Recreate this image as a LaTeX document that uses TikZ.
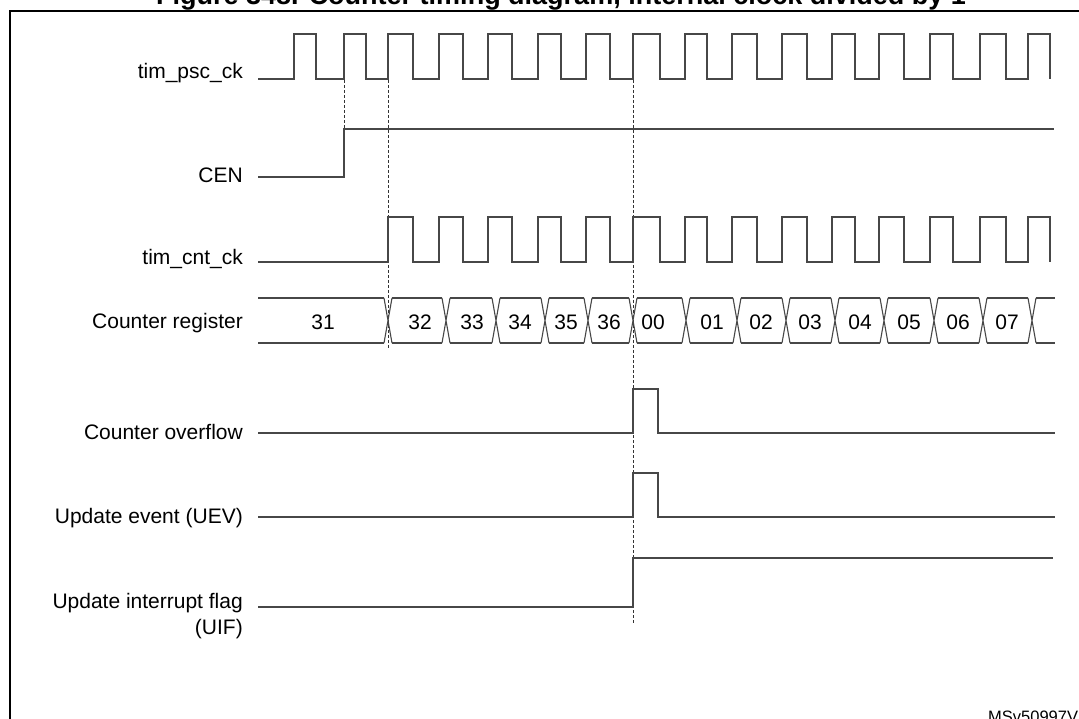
\documentclass[tikz,border=0pt]{standalone}
\usepackage{fontspec}
\setmainfont{Liberation Sans}
\begin{document}
\begin{tikzpicture}[x=1pt,y=-1pt,
  sig/.style={draw=black!72,line width=1.1pt,line join=miter},
  guide/.style={draw=black!80,line width=0.8pt,dash pattern=on 3pt off 2pt},
  lbl/.style={anchor=base east,font=\fontsize{21}{24}\selectfont,inner sep=0pt},
  val/.style={anchor=base,font=\fontsize{21}{24}\selectfont,inner sep=0pt},
  frame/.style={draw=black,line width=2.5pt}]
\useasboundingbox (0,0) rectangle (1079,719);
\begin{scope}
\clip (0,0) rectangle (1079,719);
\node[anchor=base west,inner sep=0pt,font=\fontsize{27}{30}\selectfont\bfseries] (title) at (156,5)
  {Figure 348. Counter timing diagram, internal clock divided by 1};
\draw[frame] (10,730) -- (10,11) -- (1090,11);
\node[anchor=base west,inner sep=0pt,font=\fontsize{16.5}{18}\selectfont] (ref) at (988,722) {MSv50997V1};
\end{scope}

% labels
\node[lbl] (lpsc) at (243,79) {tim\_psc\_ck};
\node[lbl] (lcen) at (243,183) {CEN};
\node[lbl] (lcnt) at (243,265) {tim\_cnt\_ck};
\node[lbl] (lreg) at (243,329) {Counter register};
\node[lbl] (lovf) at (243,439) {Counter overflow};
\node[lbl] (luev) at (243,523) {Update event (UEV)};
\node[lbl] (luif) at (243,608) {Update interrupt flag};
\node[lbl] (luif2) at (243,634) {(UIF)};

% dashed guides
\draw[guide] (344,80) -- (344,177);
\draw[guide] (388,80) -- (388,348);
\draw[guide] (633,80) -- (633,623);

% tim_psc_ck
\draw[sig] (258,79)
  \foreach \r/\f in {294/316,344/366,388/413,439/463,488/512,538/561,586/610,633/660,685/707,732/757,782/807,832/855,879/904,930/953,980/1006,1028/1050}
  { -- (\r,79) -- (\r,34) -- (\f,34) -- (\f,79) };

% CEN
\draw[sig] (258,177) -- (344,177) -- (344,129) -- (1054,129);

% tim_cnt_ck
\draw[sig] (258,262)
  \foreach \r/\f in {388/413,439/463,488/512,538/561,586/610,633/660,685/707,732/757,782/807,832/855,879/904,930/953,980/1006,1028/1050}
  { -- (\r,262) -- (\r,217) -- (\f,217) -- (\f,262) };

% Counter register
\foreach \a/\b in {258/384,392/442,450/492,500/541,549/584,592/629,637/682,690/733,741/782,790/831,839/880,888/930,938/979,987/1028,1036/1055}
  \draw[sig] (\a,298) -- (\b,298) (\a,343) -- (\b,343);
\foreach \t in {388,446,496,545,588,633,686,737,786,835,884,934,983,1032}
  \draw[sig] (\t-4,298) -- (\t+4,343) (\t-4,343) -- (\t+4,298);
\foreach \v/\x in {31/323,32/420,33/472,34/520,35/566,36/609,00/653,01/712,02/761,03/810,04/860,05/909,06/958,07/1007}
  \node[val] (v\v) at (\x,330) {\v};

% Counter overflow
\draw[sig] (258,433) -- (633,433) -- (633,389) -- (658,389) -- (658,433) -- (1055,433);
% Update event
\draw[sig] (258,517) -- (633,517) -- (633,473) -- (658,473) -- (658,517) -- (1055,517);
% UIF
\draw[sig] (258,607) -- (633,607) -- (633,558) -- (1053,558);
\end{tikzpicture}
\end{document}
